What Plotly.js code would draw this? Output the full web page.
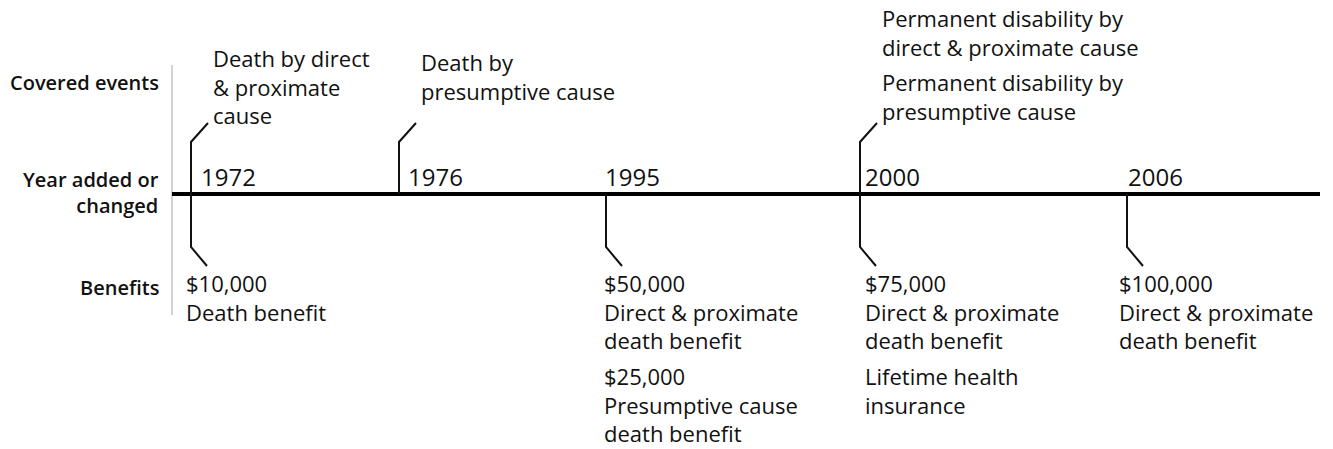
<!DOCTYPE html>
<html>
<head>
<meta charset="utf-8">
<script src="https://cdn.plot.ly/plotly-3.0.1.min.js"></script>
<style>
  body { margin: 0; background: #fff; }
  #timeline { width: 1333px; height: 449px; }
</style>
</head>
<body>
<div id="timeline"></div>
<script>
// data
var years = ["1972", "1976", "1995", "2000", "2006"];
var rowLabels = ["Covered events", "Year added or<br>changed", "Benefits"];

var coveredEvents = [
  [["Death by direct", "& proximate", "cause"]],
  [["Death by", "presumptive cause"]],
  [],
  [["Permanent disability by", "direct & proximate cause"],
   ["Permanent disability by", "presumptive cause"]],
  []
];

var benefits = [
  [["$10,000", "Death benefit"]],
  [],
  [["$50,000", "Direct & proximate", "death benefit"],
   ["$25,000", "Presumptive cause", "death benefit"]],
  [["$75,000", "Direct & proximate", "death benefit"],
   ["Lifetime health", "insurance"]],
  [["$100,000", "Direct & proximate", "death benefit"]]
];

// layout (pixel space of the drawing)
var stemX = [191, 399, 606, 860, 1127];
var yearDx = [8, 7, -3, 3, -1];
var benefitDx = [-7, 0, -4, 3, -10];
var coveredDx = 20;
var coveredTop = [58, 62, 0, 18, 0];
var benefitTop = 283, blockGap = 36;
var textSize = 22, lineStep = 1.3 * textSize;
var axisY = 194;
var fontFamily = "Open Sans, Noto Sans, sans-serif";

var annotations = [];
function addText(x, y, text, size, anchor, weight) {
  annotations.push({
    x: x, y: y, xref: "x", yref: "y", text: text, showarrow: false,
    xanchor: anchor || "left", yanchor: "middle", align: anchor || "left",
    font: {family: fontFamily, size: size, color: "#111", weight: weight || 400}
  });
}

// one annotation per text block; y is the centre of its first line
function addBlocks(x, firstY, blocks) {
  var y = firstY;
  blocks.forEach(function(block, b) {
    if (b > 0) y += blockGap;
    var n = block.length;
    addText(x, y + (n - 1) * lineStep / 2, block.join("<br>"), textSize);
    y += (n - 1) * lineStep;
  });
}

// row labels on the left
addText(161, 82, rowLabels[0], 20, "right", 600);
addText(161, 192, rowLabels[1], 20, "right", 600);
addText(161, 287, rowLabels[2], 20, "right", 600);

var upX = [], upY = [], downX = [], downY = [];

years.forEach(function(yr, i) {
  var x = stemX[i];
  addText(x + yearDx[i], 176, yr, 24);

  // covered events above the line
  if (coveredEvents[i].length) {
    addBlocks(x + coveredDx, coveredTop[i], coveredEvents[i]);
    upX.push(x, x, x + 17, null);
    upY.push(axisY, 142, 123, null);
  }

  // benefits below the line
  if (benefits[i].length) {
    addBlocks(x + benefitDx[i], benefitTop, benefits[i]);
    downX.push(x, x, x + 16, null);
    downY.push(axisY, 247, 266, null);
  }
});

var lineStyle = {color: "#111", width: 2};

var data = [
  {x: [172, 172], y: [65, 315], mode: "lines", line: {color: "#c4c4c4", width: 1.5}, hoverinfo: "skip"},
  {x: [172, 1320], y: [axisY, axisY], mode: "lines", line: {color: "#000", width: 4}, hoverinfo: "skip"},
  {x: upX, y: upY, mode: "lines", line: lineStyle, hoverinfo: "skip"},
  {x: downX, y: downY, mode: "lines", line: lineStyle, hoverinfo: "skip"}
];

var layout = {
  width: 1333,
  height: 449,
  margin: {l: 0, r: 0, t: 0, b: 0},
  paper_bgcolor: "#fff",
  plot_bgcolor: "#fff",
  showlegend: false,
  xaxis: {range: [0, 1333], visible: false, fixedrange: true},
  yaxis: {range: [449, 0], visible: false, fixedrange: true},
  annotations: annotations
};

Plotly.newPlot("timeline", data, layout, {staticPlot: true, displayModeBar: false});
</script>
</body>
</html>
